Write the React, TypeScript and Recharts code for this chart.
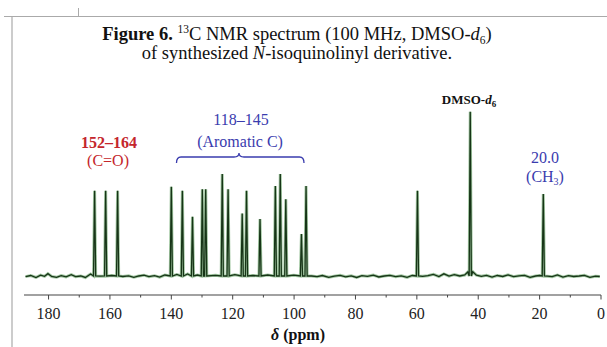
import React from "react";
import { LineChart, Line, XAxis, YAxis } from "recharts";

// peak positions (ppm) and heights (DMSO = 100)
const PEAK_PPM = [165.0, 161.4, 157.5, 140.0, 136.4, 133.1, 129.9, 128.8, 123.4, 121.5, 116.9, 115.5, 111.1, 106.1, 104.5, 102.7, 97.6, 96.1, 59.8, 42.6, 18.8];
const PEAK_INT = [52.2, 52.2, 52.2, 54.6, 52.2, 36.5, 53.1, 53.1, 62.3, 53.1, 38.4, 52.2, 35.1, 55.0, 62.3, 47.0, 26.0, 55.0, 52.2, 100, 50.2];

// baseline noise
const NOISE_PPM = [187.5, 185.8, 184.1, 182.6, 181.3, 180.2, 179.0, 177.4, 175.9, 174.3, 172.6, 171.2, 169.5, 168.0, 166.3, 163.2, 159.4, 155.8, 153.9, 152.2, 150.6, 148.9, 147.3, 145.5, 143.8, 142.1, 138.2, 134.7, 131.5, 125.6, 119.3, 113.4, 108.6, 100.1, 94.3, 92.5, 90.8, 88.7, 86.9, 85.0, 83.2, 81.4, 79.6, 77.9, 76.1, 74.2, 72.4, 70.6, 68.8, 66.9, 65.1, 63.2, 61.5, 58.1, 56.4, 54.6, 52.8, 51.2, 49.5, 47.8, 46.0, 44.4, 43.4, 41.8, 40.6, 39.0, 37.3, 35.5, 33.8, 32.0, 30.3, 28.5, 26.7, 24.9, 23.1, 21.3, 20.0, 17.5, 15.9, 14.2, 12.4, 10.6, 8.9, 7.1, 5.4, 3.6, 1.8, 0.4];
const NOISE_INT = [0.2, 0.9, -0.3, 1.1, 0.4, 2.0, 0.3, -0.2, 0.8, 0.1, 1.4, 0.2, 0.6, -0.3, 1.8, 0.5, 0.9, 0.3, 0.7, -0.2, 0.6, 1.1, 0.2, 0.8, -0.1, 1.2, 1.5, 1.8, 1.2, 1.0, 1.4, 0.9, 1.2, 1.1, 0.6, 0.2, 0.9, -0.2, 0.5, 1.0, 0.1, 0.7, -0.3, 0.8, 0.4, 1.1, 0.0, 0.6, 1.0, 0.2, 0.7, -0.2, 0.9, 0.4, 0.8, 1.6, 0.3, 1.9, 0.5, 1.4, 0.6, 1.2, 3.0, 3.2, 1.1, 0.4, 1.0, -0.1, 0.9, 0.3, 1.3, 0.2, 0.7, 1.0, -0.2, 0.6, 0.9, 0.5, 0.2, 1.2, -0.1, 0.8, 0.3, 0.6, 1.0, -0.2, 0.5, 0.3];

const TICKS = [0, 10, 20, 30, 40, 50, 60, 70, 80, 90, 100, 110, 120, 130, 140, 150, 160, 170, 180];

const points: { ppm: number; i: number }[] = [];
NOISE_PPM.forEach((p, k) => points.push({ ppm: p, i: NOISE_INT[k] }));
PEAK_PPM.forEach((p, k) => {
  points.push({ ppm: p + 0.35, i: 0.6 }, { ppm: p, i: PEAK_INT[k] }, { ppm: p - 0.35, i: 0.6 });
});
points.sort((a, b) => b.ppm - a.ppm);

const SERIF = '"Liberation Serif", "Times New Roman", serif';
const BLUE = "#3a3cae";
const RED = "#c4262c";

const Tick = (props: any) => {
  const { x, y, payload } = props;
  const major = payload.value % 20 === 0;
  return (
    <g>
      <line x1={x} y1={y} x2={x} y2={y + (major ? 4.5 : 2.5)} stroke="#444" strokeWidth={1} />
      {major && (
        <text x={x} y={y + 23.5} textAnchor="middle" fontSize={16} fontFamily={SERIF} fill="#222">
          {payload.value}
        </text>
      )}
    </g>
  );
};

export default function App() {
  return (
    <div style={{ position: "absolute", left: 0, top: 0, width: 607, height: 347, background: "#fff", overflow: "hidden" }}>
      <div style={{ position: "absolute", left: 4, top: 16, width: 603, height: 1, background: "#aaa" }} />
      <div style={{ position: "absolute", left: 78, top: 8, width: 1, height: 9, background: "#aaa" }} />
      <div style={{ position: "absolute", left: 11, top: 17, width: 2, height: 330, background: "#ccc" }} />
      <LineChart width={607} height={347} data={points} margin={{ top: 100, right: 6, bottom: 12, left: 24 }}>
        <XAxis
          type="number"
          dataKey="ppm"
          domain={[0, 188]}
          reversed
          allowDataOverflow
          ticks={TICKS}
          interval={0}
          tickSize={0}
          tickMargin={0}
          tickLine={false}
          tick={<Tick />}
          height={40}
          axisLine={{ stroke: "#444", strokeWidth: 1.2 }}
        />
        <YAxis hide domain={[-10.9, 107.1]} allowDataOverflow />
        <Line type="linear" dataKey="i" stroke="#4a944a" strokeOpacity={0.5} strokeWidth={3} dot={false} isAnimationActive={false} />
        <Line type="linear" dataKey="i" stroke="#173517" strokeWidth={1.3} dot={false} isAnimationActive={false} />
      </LineChart>
      <svg width={607} height={347} style={{ position: "absolute", left: 0, top: 0, pointerEvents: "none" }} fontFamily={SERIF}>
        <text x={297} y={40} textAnchor="middle" fontSize={18.5} fill="#111">
          <tspan fontWeight="bold">{"Figure 6. "}</tspan>
          <tspan fontSize={11.5} dy={-7}>13</tspan>
          <tspan dy={7}>{"C NMR spectrum (100 MHz, DMSO-"}</tspan>
          <tspan fontStyle="italic">d</tspan>
          <tspan fontSize={11.5} dy={3.5}>6</tspan>
          <tspan dy={-3.5}>)</tspan>
        </text>
        <text x={297} y={59} textAnchor="middle" fontSize={18.5} fill="#111">
          <tspan>{"of synthesized "}</tspan>
          <tspan fontStyle="italic">N</tspan>
          <tspan>{"-isoquinolinyl derivative."}</tspan>
        </text>

        <text x={109} y={148} textAnchor="middle" fontSize={16} fontWeight="bold" fill={RED}>152–164</text>
        <text x={108} y={166} textAnchor="middle" fontSize={16} fill={RED}>(C=O)</text>

        <text x={241} y={125} textAnchor="middle" fontSize={16} fill={BLUE}>118–145</text>
        <text x={240} y={146.5} textAnchor="middle" fontSize={16} fill={BLUE}>(Aromatic C)</text>
        <path
          d="M176.5,163 Q176.5,157 181,157 L234,157 Q239,157 239,153 Q239,157 244,157 L299.5,157 Q304,157 304,163"
          fill="none"
          stroke={BLUE}
          strokeWidth={1.3}
        />

        <text x={469} y={104} textAnchor="middle" fontSize={13} fontWeight="bold" fill="#111">
          <tspan>DMSO-</tspan>
          <tspan fontStyle="italic">d</tspan>
          <tspan fontSize={9} dy={3}>6</tspan>
        </text>

        <text x={545} y={163} textAnchor="middle" fontSize={16} fill={BLUE}>20.0</text>
        <text x={545} y={182} textAnchor="middle" fontSize={16} fill={BLUE}>
          <tspan>(CH</tspan>
          <tspan fontSize={10} dy={3}>3</tspan>
          <tspan dy={-3}>)</tspan>
        </text>

        <text x={298} y={340} textAnchor="middle" fontSize={16} fontWeight="bold" fill="#111">
          <tspan fontStyle="italic">δ</tspan>
          <tspan>{" (ppm)"}</tspan>
        </text>
      </svg>
    </div>
  );
}
